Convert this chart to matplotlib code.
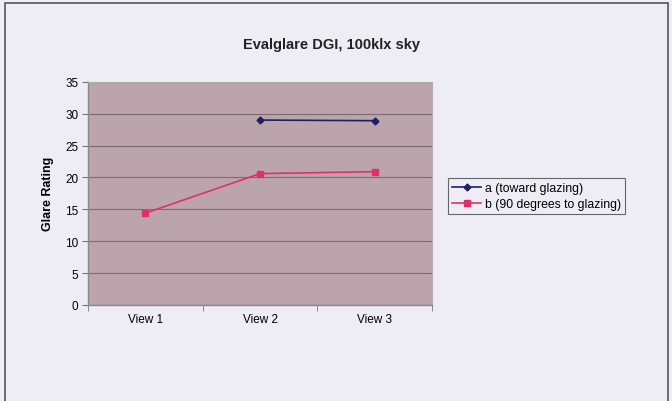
import matplotlib
matplotlib.use("Agg")
import matplotlib.pyplot as plt
from matplotlib.patches import Rectangle

plt.rcParams['font.family'] = ['Liberation Sans', 'DejaVu Sans']

# Glare ratings per view
views = ["View 1", "View 2", "View 3"]
series_a_label = "a (toward glazing)"
series_a = [None, 29.0, 28.9]
series_b_label = "b (90 degrees to glazing)"
series_b = [14.4, 20.6, 20.9]
y_ticks = [0, 5, 10, 15, 20, 25, 30, 35]

BG = '#eeedf6'
PLOT_BG = '#bca4ad'
GRID = '#7d6b72'
NAVY = '#202060'
PINK = '#e0306a'

fig = plt.figure(figsize=(6.72, 4.02), dpi=100)
fig.patch.set_facecolor(BG)

# outer chart frame
fig.patches.append(Rectangle((0.008, -0.01), 0.986, 1.0, transform=fig.transFigure,
                             fill=False, edgecolor='#555555', linewidth=1.2))

ax = fig.add_axes([0.131, 0.239, 0.512, 0.555])
ax.set_facecolor(PLOT_BG)

x = list(range(len(views)))
xa = [i for i, v in zip(x, series_a) if v is not None]
ya = [v for v in series_a if v is not None]
ax.plot(xa, ya, color=NAVY, marker='D', markersize=3.5, linewidth=1.2,
        label=series_a_label, zorder=3)
ax.plot(x, series_b, color=PINK, marker='s', markersize=4, linewidth=1.2,
        label=series_b_label, zorder=3)

ax.set_xlim(-0.5, len(views) - 0.5)
ax.set_ylim(0, 35)
ax.set_yticks(y_ticks)
ax.set_yticklabels([str(t) for t in y_ticks], fontsize=8.5)
ax.set_xticks(x)
ax.set_xticklabels(views, fontsize=8.5)
ax.tick_params(axis='x', length=0, pad=6)
ax.set_xticks([i + 0.5 for i in range(-1, len(views))], minor=True)
ax.tick_params(axis='x', which='minor', length=4, color='#777777')
ax.tick_params(axis='y', length=4, color='#777777', pad=3)
ax.grid(axis='y', color=GRID, linewidth=0.8)
ax.set_axisbelow(True)

for side in ['top', 'right']:
    ax.spines[side].set_color('#b0b0b0')
    ax.spines[side].set_linewidth(0.8)
for side in ['left', 'bottom']:
    ax.spines[side].set_color('#888888')
    ax.spines[side].set_linewidth(1.0)

ax.set_ylabel("Glare Rating", fontsize=9, fontweight='bold', labelpad=8)

fig.text(0.493, 0.888, "Evalglare DGI, 100klx sky", ha='center', va='center',
         fontsize=10.5, fontweight='bold', color='#222222')

leg = fig.legend(loc='center left', bbox_to_anchor=(0.657, 0.51), fontsize=8.8,
                 frameon=True, fancybox=False, borderpad=0.35, handlelength=2.4,
                 handletextpad=0.3, labelspacing=0.3)
leg.get_frame().set_edgecolor('#444444')
leg.get_frame().set_facecolor(BG)
leg.get_frame().set_linewidth(0.8)

fig.savefig("out.png", dpi=100, facecolor=BG)
